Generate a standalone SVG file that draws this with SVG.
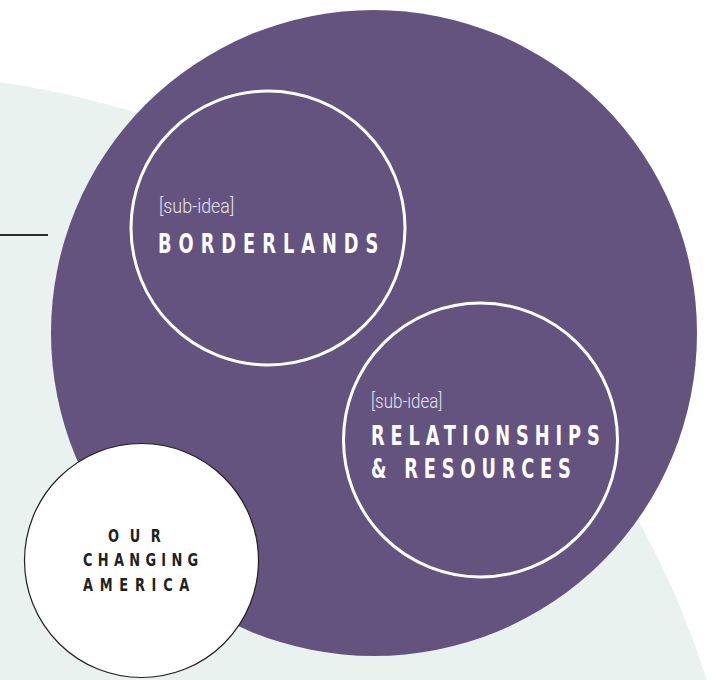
<svg xmlns="http://www.w3.org/2000/svg" width="716" height="680" viewBox="0 0 716 680">
  <style>
    .bg { fill: #ffffff; }
    .field { fill: #e9f2ef; }
    .main { fill: #63537e; }
    .ring { fill: none; stroke: #ffffff; stroke-width: 3; }
    .hub { fill: #ffffff; stroke: #231f20; stroke-width: 1.2; }
    .rule { stroke: #2b2b2b; stroke-width: 2; }
    .tag { font-family: Roboto, "Liberation Sans", sans-serif; font-weight: 300; font-size: 20px; fill: #e6e2ee; }
    .title { font-family: "DejaVu Sans", "Liberation Sans", sans-serif; font-stretch: condensed; font-weight: 700; font-size: 26px; fill: #ffffff; }
    .hubtitle { font-family: "DejaVu Sans", "Liberation Sans", sans-serif; font-stretch: condensed; font-weight: 700; font-size: 18px; fill: #231f20; }
  </style>

  <rect class="bg" x="0" y="0" width="716" height="680"/>

  <!-- soft background field -->
  <circle class="field" cx="-120" cy="941" r="867"/>

  <!-- short rule on the left -->
  <line class="rule" x1="0" y1="235" x2="48" y2="235"/>

  <!-- large purple idea circle -->
  <g id="main-idea">
    <circle class="main" cx="374" cy="333" r="323"/>
  </g>

  <g id="borderlands">
    <circle class="ring" cx="268" cy="228" r="137"/>
    <text class="tag" transform="translate(159,213) scale(0.76,1)" textLength="99" lengthAdjust="spacingAndGlyphs">[sub-idea]</text>
    <text class="title" transform="translate(158,253) scale(0.76,1)" textLength="290" lengthAdjust="spacing">BORDERLANDS</text>
  </g>

  <g id="relationships-resources">
    <circle class="ring" cx="480.5" cy="440" r="137"/>
    <text class="tag" transform="translate(371,408) scale(0.76,1)" textLength="94" lengthAdjust="spacingAndGlyphs">[sub-idea]</text>
    <text class="title" transform="translate(371,445) scale(0.76,1)" textLength="301" lengthAdjust="spacing">RELATIONSHIPS</text>
    <text class="title" transform="translate(371,478) scale(0.76,1)" textLength="263" lengthAdjust="spacing">&amp; RESOURCES</text>
  </g>

  <g id="our-changing-america">
    <circle class="hub" cx="141.5" cy="560.5" r="117"/>
    <text class="hubtitle" transform="translate(108,541.5) scale(0.8,1)" textLength="66" lengthAdjust="spacing">OUR</text>
    <text class="hubtitle" transform="translate(83,566) scale(0.8,1)" textLength="144" lengthAdjust="spacing">CHANGING</text>
    <text class="hubtitle" transform="translate(83,590.5) scale(0.8,1)" textLength="133" lengthAdjust="spacing">AMERICA</text>
  </g>

  <g id="connectors"></g>
</svg>
